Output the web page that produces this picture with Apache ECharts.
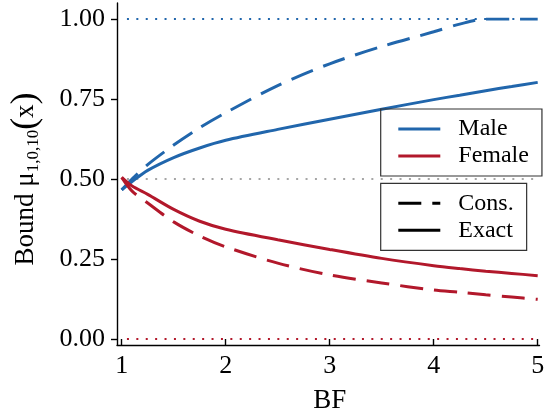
<!DOCTYPE html>
<html>
<head>
<meta charset="utf-8">
<script src="https://cdn.jsdelivr.net/npm/echarts@6/dist/echarts.min.js"></script>
<style>
  html, body { margin: 0; padding: 0; background: #fff; }
  #chart { width: 552px; height: 418px; }
</style>
</head>
<body>
<div id="chart"></div>
<script>
// Bayes factor grid and the four bound curves
var bf = [1, 1.1, 1.25, 1.5, 1.75, 2, 2.5, 3, 3.5, 4, 4.25, 4.5, 4.75, 5];
var maleExact = [0.466, 0.492, 0.527, 0.567, 0.597, 0.621, 0.655, 0.687, 0.718, 0.748, 0.762, 0.776, 0.789, 0.802];
var maleCons = [0.466, 0.500, 0.545, 0.606, 0.660, 0.707, 0.792, 0.860, 0.914, 0.960, 0.984, 1.000, 1.000, 1.000];
var femaleExact = [0.505, 0.478, 0.452, 0.405, 0.368, 0.343, 0.310, 0.280, 0.252, 0.229, 0.220, 0.212, 0.205, 0.198];
var femaleCons = [0.505, 0.462, 0.425, 0.366, 0.322, 0.288, 0.237, 0.200, 0.175, 0.153, 0.146, 0.138, 0.131, 0.124];

// Reference levels drawn as dotted lines across the panel
var refLevels = [1, 0.5, 0];
var refSpan = [0.96, 5.08];

var xTicks = [1, 2, 3, 4, 5];
var yTicks = ['0.00', '0.25', '0.50', '0.75', '1.00'];

var BLUE = '#2166ac';
var RED = '#b2182b';
var GREY = '#a6a6a6';
var FONT = 'Liberation Serif';
var DASH = [23, 11];
var DOT = [2, 7.4];

// Key glyphs: a solid bar and a long-dash/short-dash bar
var ICON_SOLID = 'path://M0,0h42v3h-42z';
var ICON_DASH = 'path://M0,0h23v3h-23z M34,0h8v3h-8z';

function pairs(ys) {
  return bf.map(function (x, i) { return [x, ys[i]]; });
}

function refLine(level, color) {
  return {
    type: 'line', xAxisIndex: 0, yAxisIndex: 0, silent: true, clip: false,
    symbol: 'none', z: 1,
    lineStyle: { color: color, width: 2, type: DOT },
    data: [[refSpan[0], level], [refSpan[1], level]]
  };
}

function curve(ys, color, type) {
  return {
    type: 'line', xAxisIndex: 0, yAxisIndex: 0, silent: true,
    symbol: 'none', smooth: 0.3, z: 3,
    lineStyle: { color: color, width: 3, type: type, cap: 'butt' },
    data: pairs(ys)
  };
}

function keyEntry(name, color) {
  return {
    name: name, type: 'line', xAxisIndex: 0, yAxisIndex: 0,
    symbol: 'none', data: [],
    itemStyle: { color: color },
    lineStyle: { color: color, width: 3 }
  };
}

var axisBlack = { color: '#000', width: 1.4 };
var keyText = { color: '#000', fontSize: 24, fontFamily: FONT, padding: [0, 0, 0, 13] };

var chart = echarts.init(document.getElementById('chart'), null, { renderer: 'canvas' });
chart.setOption({
  animation: false,
  backgroundColor: '#fff',
  textStyle: { fontFamily: FONT },
  grid: [
    { left: 121.7, right: 14.3, top: 19, bottom: 79, outerBoundsMode: 'none' },
    { left: 117, right: 12.5, top: 3, bottom: 73, outerBoundsMode: 'none' }
  ],
  xAxis: [
    {
      type: 'value', gridIndex: 0, min: 1, max: 5, interval: 1, offset: 6,
      axisLine: { show: false },
      axisTick: { show: true, length: 6, lineStyle: axisBlack },
      axisLabel: {
        color: '#000', fontSize: 26, fontFamily: FONT, margin: 8,
        formatter: function (v) { return xTicks.indexOf(v) >= 0 ? String(v) : ''; }
      },
      splitLine: { show: false },
      name: 'BF', nameLocation: 'middle', nameGap: 42,
      nameTextStyle: { color: '#000', fontSize: 27, fontFamily: FONT }
    },
    {
      type: 'value', gridIndex: 1, min: 0, max: 1,
      axisLine: { show: true, lineStyle: axisBlack },
      axisTick: { show: false }, axisLabel: { show: false }, splitLine: { show: false }
    }
  ],
  yAxis: [
    {
      type: 'value', gridIndex: 0, min: 0, max: 1, interval: 0.25, offset: 4.7,
      axisLine: { show: false },
      axisTick: { show: true, length: 6, lineStyle: axisBlack },
      axisLabel: {
        color: '#000', fontSize: 26, fontFamily: FONT, margin: 12,
        formatter: function (v) { return yTicks[Math.round(v / 0.25)]; }
      },
      splitLine: { show: false },
      name: '{m|Bound μ}{s|1,0,10}{p|(}{m|x}{p|)}',
      nameLocation: 'middle', nameGap: 73, nameRotate: 90,
      nameTextStyle: {
        color: '#000', fontFamily: FONT,
        rich: {
          m: { fontSize: 27, fontFamily: FONT, color: '#000' },
          s: { fontSize: 17, fontFamily: FONT, color: '#000', padding: [15, 0, 0, 0] },
          p: { fontSize: 36, fontFamily: FONT, color: '#000' }
        }
      }
    },
    {
      type: 'value', gridIndex: 1, min: 0, max: 1,
      axisLine: { show: true, lineStyle: axisBlack },
      axisTick: { show: false }, axisLabel: { show: false }, splitLine: { show: false }
    }
  ],
  legend: [
    {
      data: [{ name: 'Male', icon: ICON_SOLID }, { name: 'Female', icon: ICON_SOLID }],
      orient: 'vertical', selectedMode: false,
      left: 380.7, top: 109, itemWidth: 42, itemHeight: 3, itemGap: 3,
      padding: [8, 13, 8, 17.6],
      borderColor: '#333', borderWidth: 1.2,
      textStyle: keyText
    },
    {
      data: [{ name: 'Cons.', icon: ICON_DASH }, { name: 'Exact', icon: ICON_SOLID }],
      orient: 'vertical', selectedMode: false,
      left: 380.7, top: 183.3, itemWidth: 42, itemHeight: 3, itemGap: 3,
      padding: [8, 13, 8, 17.6],
      borderColor: '#333', borderWidth: 1.2,
      textStyle: keyText
    }
  ],
  series: [
    refLine(refLevels[0], BLUE),
    refLine(refLevels[1], GREY),
    refLine(refLevels[2], RED),
    curve(maleCons, BLUE, DASH),
    curve(maleExact, BLUE, 'solid'),
    curve(femaleCons, RED, DASH),
    curve(femaleExact, RED, 'solid'),
    keyEntry('Male', BLUE),
    keyEntry('Female', RED),
    keyEntry('Cons.', '#000'),
    keyEntry('Exact', '#000')
  ]
});
</script>
</body>
</html>
